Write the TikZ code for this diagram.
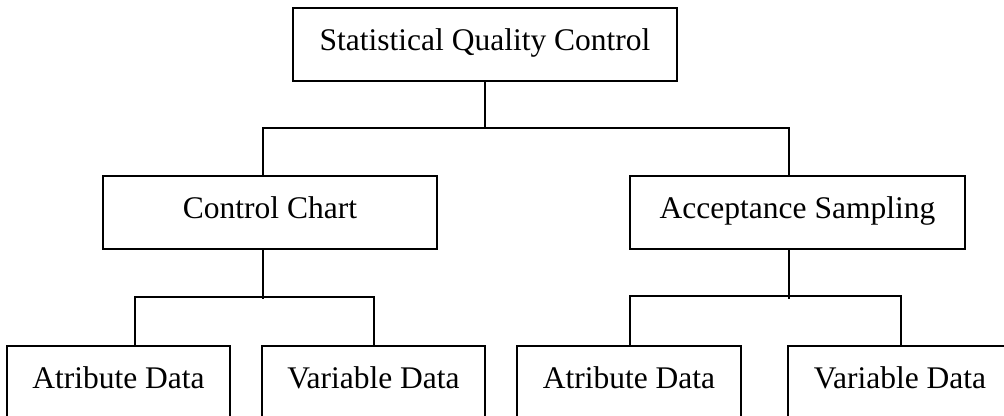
\documentclass[tikz,border=0pt]{standalone}
\usepackage{fontspec}
\setmainfont{Liberation Serif}
\begin{document}
\begin{tikzpicture}[x=1pt,y=-1pt,
  boxnode/.style={draw=black, line width=1.7pt, anchor=north, inner xsep=0pt, inner ysep=21pt,
    text height=22pt, text depth=9pt,
    font=\fontsize{31.5}{36}\selectfont},
  leafnode/.style={boxnode, text depth=40pt},
  link/.style={draw=black, line width=1.7pt}]
\useasboundingbox (0,0) rectangle (1004,415);
\clip (0,0) rectangle (1004,415);
\fill[white] (0,0) rectangle (1004,415);
% nodes
\node[boxnode, minimum width=384pt] (top) at (485,7) {Statistical Quality Control};
\node[boxnode, minimum width=334pt] (cc) at (270,175) {Control Chart};
\node[boxnode, minimum width=335pt] (as) at (797.5,175) {Acceptance Sampling};
\node[leafnode, minimum width=223pt] (b1) at (118.5,345) {Atribute Data};
\node[leafnode, minimum width=223pt] (b2) at (373.5,345) {Variable Data};
\node[leafnode, minimum width=224pt] (b3) at (629,345) {Atribute Data};
\node[leafnode, minimum width=224pt] (b4) at (900,345) {Variable Data};
% connectors
\coordinate (bus1) at (485,128);
\draw[link] (top.south) -- (bus1);
\draw[link] ([xshift=-7pt]cc.north) -- ++(0,-47) -| ([xshift=-8.5pt]as.north);
\draw[link] ([xshift=-7pt]cc.south) -- ++(0,49);
\draw[link] ([xshift=16.5pt]b1.north) -- ++(0,-48) -| ([xshift=0.5pt]b2.north);
\draw[link] ([xshift=-8.5pt]as.south) -- ++(0,49);
\draw[link] ([xshift=1pt]b3.north) -- ++(0,-49) -| ([xshift=1pt]b4.north);
\end{tikzpicture}
\end{document}
